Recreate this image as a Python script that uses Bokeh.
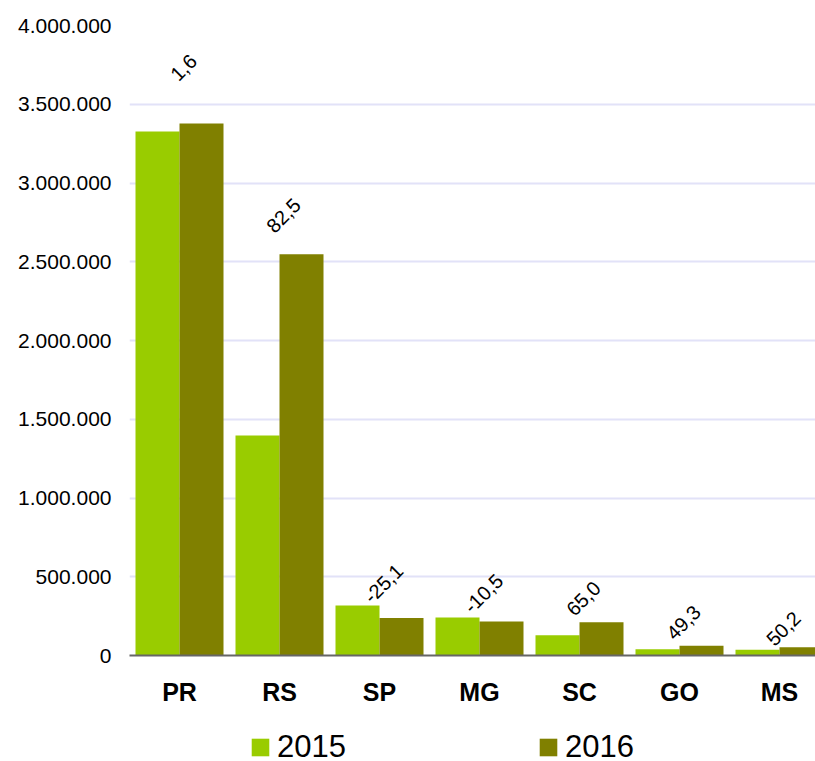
import math
from bokeh.plotting import figure
from bokeh.layouts import column
from bokeh.models import (Range1d, FixedTicker, Legend, LegendItem, ColumnDataSource)
from bokeh.embed import file_html
from bokeh.resources import INLINE
from bokeh.core.properties import value

# ---- data ----
states = ["PR", "RS", "SP", "MG", "SC", "GO", "MS"]
v2015 = [3327000, 1397000, 317000, 241000, 128000, 40000, 36000]
v2016 = [3378000, 2548000, 238000, 216000, 211000, 62000, 52000]
pct_change = [1.6, 82.5, -25.1, -10.5, 65.0, 49.3, 50.2]
label_anchor = [3733000, 2794000, 457000, 394000, 362000, 210000, 171000]
series_names = ["2015", "2016"]
y_ticks = [0, 500000, 1000000, 1500000, 2000000, 2500000, 3000000, 3500000, 4000000]
y_tick_labels = [f"{t:,}".replace(",", ".") for t in y_ticks]

FONT = "Liberation Sans"
C15 = "#99cc00"
C16 = "#808000"

idx = list(range(len(states)))
src = ColumnDataSource(dict(
    x15=[i + 0.28 for i in idx],
    x16=[i + 0.72 for i in idx],
    xl=[i + 0.54 for i in idx],
    v15=v2015,
    v16=v2016,
    ly=label_anchor,
    txt=[f"{v:.1f}".replace(".", ",") for v in pct_change],
))

p = figure(width=815, height=722, output_backend="svg", toolbar_location=None,
           x_range=Range1d(0, 6.86), y_range=Range1d(0, 4000000),
           min_border_left=129, min_border_top=25, min_border_right=0,
           min_border_bottom=67)
p.outline_line_color = None
p.background_fill_color = "white"
p.border_fill_color = "white"

r15 = p.vbar(x="x15", top="v15", width=0.44, bottom=0, source=src,
             fill_color=C15, line_color=None)
r16 = p.vbar(x="x16", top="v16", width=0.44, bottom=0, source=src,
             fill_color=C16, line_color=None)

p.text(x="xl", y="ly", text="txt", source=src, angle=math.pi / 4,
       text_align="center", text_baseline="middle",
       text_font=value(FONT), text_font_size="20px", text_color="#000000")

# y axis
p.yaxis.ticker = FixedTicker(ticks=y_ticks)
p.yaxis.major_label_overrides = {t: s for t, s in zip(y_ticks, y_tick_labels)}
p.yaxis.axis_line_color = None
p.yaxis.major_tick_line_color = None
p.yaxis.minor_tick_line_color = None
p.yaxis.major_label_standoff = 12
p.yaxis.major_label_text_font = FONT
p.yaxis.major_label_text_font_size = "21px"
p.yaxis.major_label_text_color = "#000000"

# x axis
p.xaxis.ticker = FixedTicker(ticks=[i + 0.5 for i in idx])
p.xaxis.major_label_overrides = {i + 0.5: s for i, s in zip(idx, states)}
p.xaxis.axis_line_color = "#666666"
p.xaxis.axis_line_width = 2
p.xaxis.major_tick_line_color = None
p.xaxis.minor_tick_line_color = None
p.xaxis.major_label_standoff = 16
p.xaxis.major_label_text_font = FONT
p.xaxis.major_label_text_font_size = "25px"
p.xaxis.major_label_text_font_style = "bold"
p.xaxis.major_label_text_color = "#000000"

p.xgrid.grid_line_color = None
p.ygrid.grid_line_color = "#e2e2f8"
p.ygrid.grid_line_width = 2

# ---- legend strip below the chart (its renderers are hidden) ----
lf = figure(width=815, height=39, output_backend="svg", toolbar_location=None,
            x_range=Range1d(0, 6.86), y_range=Range1d(0, 4000000),
            min_border=0)
lf.axis.visible = False
lf.grid.visible = False
lf.outline_line_color = None
lr15 = lf.vbar(x="x15", top="v15", width=0.44, bottom=0, source=src,
               fill_color=C15, line_color=None, visible=False)
lr16 = lf.vbar(x="x16", top="v16", width=0.44, bottom=0, source=src,
               fill_color=C16, line_color=None, visible=False)

legend = Legend(items=[LegendItem(label=series_names[0], renderers=[lr15]),
                       LegendItem(label=series_names[1], renderers=[lr16])],
                orientation="horizontal", location=(120, -4),
                glyph_width=22, glyph_height=22, label_standoff=6,
                label_width=130, spacing=130, padding=0, margin=0,
                border_line_color=None, background_fill_alpha=0,
                inactive_fill_alpha=0,
                label_text_font=FONT, label_text_font_size="31px",
                label_text_color="#000000")
lf.add_layout(legend, "center")

open("out.html", "w").write(file_html(column(p, lf, spacing=0), INLINE))
